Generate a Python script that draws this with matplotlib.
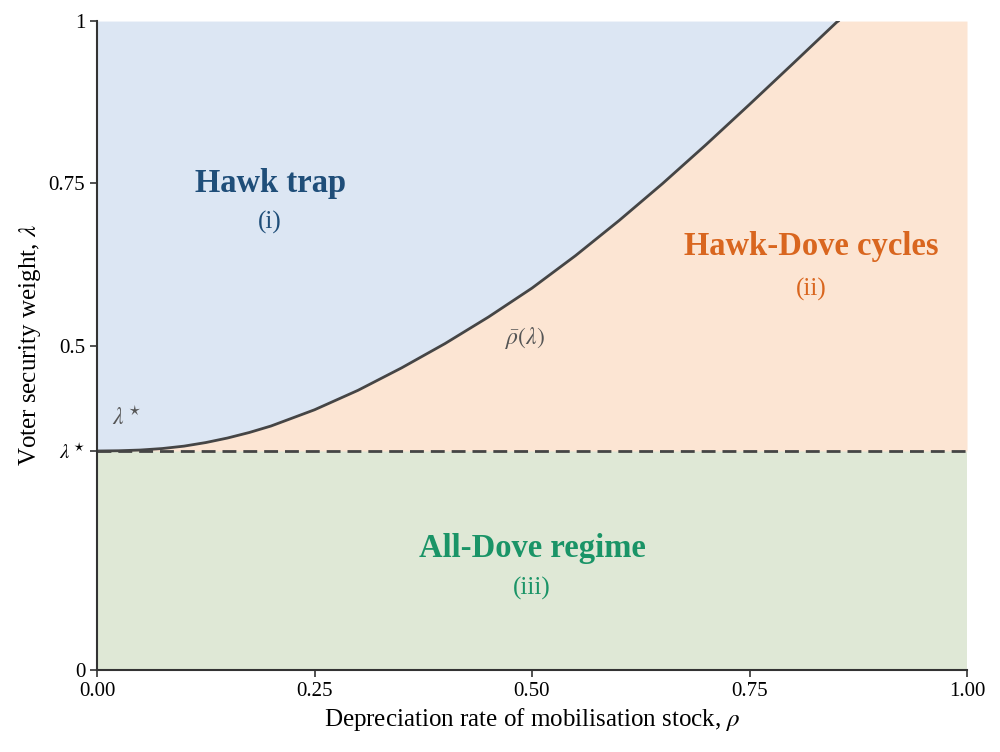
import matplotlib
matplotlib.use('Agg')
import matplotlib.pyplot as plt
import numpy as np

# boundary curve rho_bar(lambda)
rho = [0.0, 0.025, 0.05, 0.075, 0.10, 0.125, 0.15, 0.175, 0.20, 0.25, 0.30, 0.35,
       0.40, 0.45, 0.50, 0.55, 0.60, 0.65, 0.70, 0.75, 0.80, 0.85, 0.852]
lam = [0.3375, 0.3379, 0.3390, 0.3413, 0.3450, 0.3505, 0.3575, 0.3660, 0.3760,
       0.4010, 0.4310, 0.4655, 0.5030, 0.5440, 0.5885, 0.6385, 0.6925, 0.7495,
       0.8095, 0.8715, 0.9345, 0.998, 1.0]
lam_star = 0.3375

x_ticks = [0.0, 0.25, 0.5, 0.75, 1.0]
x_ticklabels = ['0.00', '0.25', '0.50', '0.75', '1.00']
y_ticks = [0.0, lam_star, 0.5, 0.75, 1.0]
y_ticklabels = ['0', r'$\lambda^\star$', '0.5', '0.75', '1']

plt.rcParams['font.family'] = ['Liberation Serif', 'DejaVu Serif']
plt.rcParams['mathtext.fontset'] = 'stix'

fig = plt.figure(figsize=(10, 7.52), dpi=100)
ax = fig.add_axes([0.097, 0.109, 0.870, 0.863])

rho_ext = np.array(rho + [1.0])
lam_ext = np.array(lam + [1.0])

ax.axhspan(0, lam_star, color='#dfe8d6', lw=0)
ax.fill_between(rho, lam, 1.0, color='#dce6f3', lw=0)
ax.fill_between(rho_ext, lam_star, lam_ext, color='#fce5d3', lw=0)

ax.plot(rho, lam, color='#454545', lw=2, solid_joinstyle='round')
ax.axhline(lam_star, color='#454545', lw=2, ls=(0, (5, 2.5)))

ax.text(0.199, 0.75, 'Hawk trap', color='#1f4e79', fontsize=23.5, fontweight='bold',
        ha='center', va='center')
ax.text(0.199, 0.69, '(i)', color='#1f4e79', fontsize=18, ha='center', va='center')
ax.text(0.821, 0.653, 'Hawk-Dove cycles', color='#d9661f', fontsize=23.5, fontweight='bold',
        ha='center', va='center')
ax.text(0.821, 0.587, '(ii)', color='#d9661f', fontsize=18, ha='center', va='center')
ax.text(0.5, 0.188, 'All-Dove regime', color='#1a9467', fontsize=23.5, fontweight='bold',
        ha='center', va='center')
ax.text(0.5, 0.126, '(iii)', color='#1a9467', fontsize=18, ha='center', va='center')

ax.text(0.492, 0.512, r'$\bar{\rho}(\lambda)$', color='#555555', fontsize=17,
        ha='center', va='center')
ax.text(0.034, 0.388, r'$\lambda^\star$', color='#555555', fontsize=17,
        ha='center', va='center')

ax.set_xlim(0, 1)
ax.set_ylim(0, 1)
ax.set_xticks(x_ticks)
ax.set_xticklabels(x_ticklabels)
ax.set_yticks(y_ticks)
ax.set_yticklabels(y_ticklabels)
ax.tick_params(labelsize=15, length=5, width=1.2, color='#333333')

for s in ['top', 'right']:
    ax.spines[s].set_visible(False)
for s in ['left', 'bottom']:
    ax.spines[s].set_linewidth(1.5)
    ax.spines[s].set_color('#333333')

ax.set_xlabel(r'Depreciation rate of mobilisation stock, $\rho$', fontsize=18)
ax.set_ylabel(r'Voter security weight, $\lambda$', fontsize=18)

fig.savefig('out.png', dpi=100)
